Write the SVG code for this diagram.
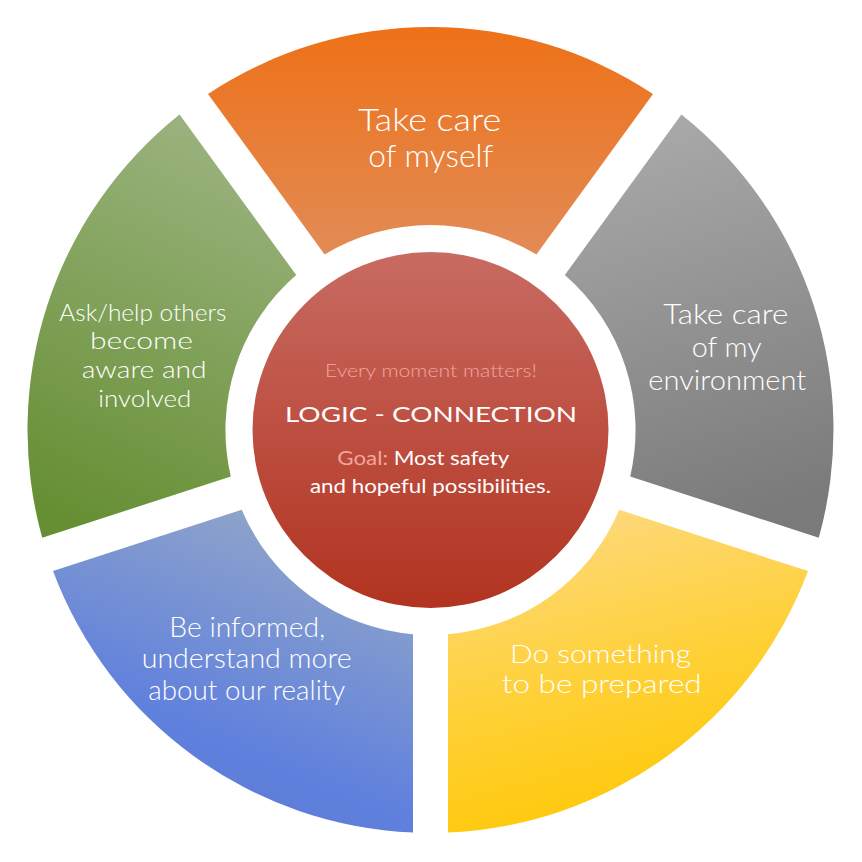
<svg xmlns="http://www.w3.org/2000/svg" width="862" height="862" viewBox="0 0 862 862">
<defs>
<linearGradient id="gOrange" x1="0" y1="0" x2="0" y2="1"><stop offset="0" stop-color="#EE7117"/><stop offset="1" stop-color="#E28B56"/></linearGradient>
<linearGradient id="gGray" x1="0.3" y1="0" x2="0.5" y2="1"><stop offset="0" stop-color="#AAAAAA"/><stop offset="1" stop-color="#7A7A7A"/></linearGradient>
<linearGradient id="gYellow" x1="0.1" y1="0" x2="0.4" y2="1"><stop offset="0" stop-color="#FDDA86"/><stop offset="0.6" stop-color="#FED033"/><stop offset="1" stop-color="#FFC807"/></linearGradient>
<linearGradient id="gBlue" x1="0.75" y1="0" x2="0.3" y2="1"><stop offset="0" stop-color="#94A8C8"/><stop offset="0.7" stop-color="#5F80DD"/><stop offset="1" stop-color="#5B7AD0"/></linearGradient>
<linearGradient id="gGreen" x1="0.6" y1="0" x2="0.3" y2="1"><stop offset="0" stop-color="#9BB37F"/><stop offset="1" stop-color="#668F33"/></linearGradient>
<linearGradient id="gCenter" x1="0" y1="0" x2="0" y2="1"><stop offset="0" stop-color="#C86B62"/><stop offset="1" stop-color="#B23320"/></linearGradient>
<style>
.seg{font-family:Lato,"Open Sans","Liberation Sans",sans-serif;font-weight:300;fill:#FFFFFF}
.ctr{font-family:Lato,"Open Sans","Liberation Sans",sans-serif;fill:#FFFFFF}
.pink{fill:#F3A59C}
</style>
</defs>
<rect width="862" height="862" fill="#FFFFFF"/>
<g id="connectors"></g>
<g id="node-orange">
<path d="M208.0,94.0 A403,403 0 0 1 653.0,94.0 L536.4,254.5 A205,205 0 0 0 324.6,254.5 Z" fill="url(#gOrange)"/>
<text class="seg" font-size="32" x="358.3" y="130.7" textLength="143" lengthAdjust="spacingAndGlyphs">Take care</text>
<text class="seg" font-size="32" x="368.3" y="167.3" textLength="125" lengthAdjust="spacingAndGlyphs">of myself</text>
</g>
<g id="node-gray">
<path d="M681.4,114.6 A403,403 0 0 1 818.8,537.8 L630.2,476.5 A205,205 0 0 0 564.8,275.1 Z" fill="url(#gGray)"/>
<text class="seg" font-size="27" x="663.3" y="324" textLength="125" lengthAdjust="spacingAndGlyphs">Take care</text>
<text class="seg" font-size="27" x="691.7" y="357" textLength="70" lengthAdjust="spacingAndGlyphs">of my</text>
<text class="seg" font-size="27" x="648.3" y="390" textLength="158" lengthAdjust="spacingAndGlyphs">environment</text>
</g>
<g id="node-yellow">
<path d="M808.0,571.1 A403,403 0 0 1 448.0,832.6 L448.0,634.3 A205,205 0 0 0 619.3,509.8 Z" fill="url(#gYellow)"/>
<text class="seg" font-size="25.5" x="510" y="663.3" textLength="181" lengthAdjust="spacingAndGlyphs">Do something</text>
<text class="seg" font-size="25.5" x="501.7" y="693" textLength="200" lengthAdjust="spacingAndGlyphs">to be prepared</text>
</g>
<g id="node-blue">
<path d="M413.0,832.6 A403,403 0 0 1 53.0,571.1 L241.7,509.8 A205,205 0 0 0 413.0,634.3 Z" fill="url(#gBlue)"/>
<text class="seg" font-size="27" x="169.3" y="636.7" textLength="156" lengthAdjust="spacingAndGlyphs">Be informed,</text>
<text class="seg" font-size="27" x="141.7" y="668.3" textLength="210" lengthAdjust="spacingAndGlyphs">understand more</text>
<text class="seg" font-size="27" x="148.3" y="700" textLength="197" lengthAdjust="spacingAndGlyphs">about our reality</text>
</g>
<g id="node-green">
<path d="M42.2,537.8 A403,403 0 0 1 179.6,114.6 L296.2,275.1 A205,205 0 0 0 230.8,476.5 Z" fill="url(#gGreen)"/>
<text class="seg" font-size="23" x="59.3" y="320.7" textLength="167" lengthAdjust="spacingAndGlyphs">Ask/help others</text>
<text class="seg" font-size="23" x="90" y="349.3" textLength="103" lengthAdjust="spacingAndGlyphs">become</text>
<text class="seg" font-size="23" x="81.7" y="378.3" textLength="125" lengthAdjust="spacingAndGlyphs">aware and</text>
<text class="seg" font-size="23" x="98.3" y="406.7" textLength="93" lengthAdjust="spacingAndGlyphs">involved</text>
</g>
<g id="node-center">
<circle cx="430.5" cy="430" r="178" fill="url(#gCenter)"/>
<text class="ctr pink" font-size="18" font-weight="300" x="325" y="376.7" textLength="212" lengthAdjust="spacingAndGlyphs">Every moment matters!</text>
<text class="ctr" font-size="22" x="285" y="421.7" textLength="292" lengthAdjust="spacingAndGlyphs">LOGIC - CONNECTION</text>
<text class="ctr" font-size="19.5" x="337.3" y="465" textLength="172" lengthAdjust="spacingAndGlyphs"><tspan class="pink">Goal:</tspan> Most safety</text>
<text class="ctr" font-size="19.5" x="310" y="492.7" textLength="241" lengthAdjust="spacingAndGlyphs">and hopeful possibilities.</text>
</g>
</svg>
